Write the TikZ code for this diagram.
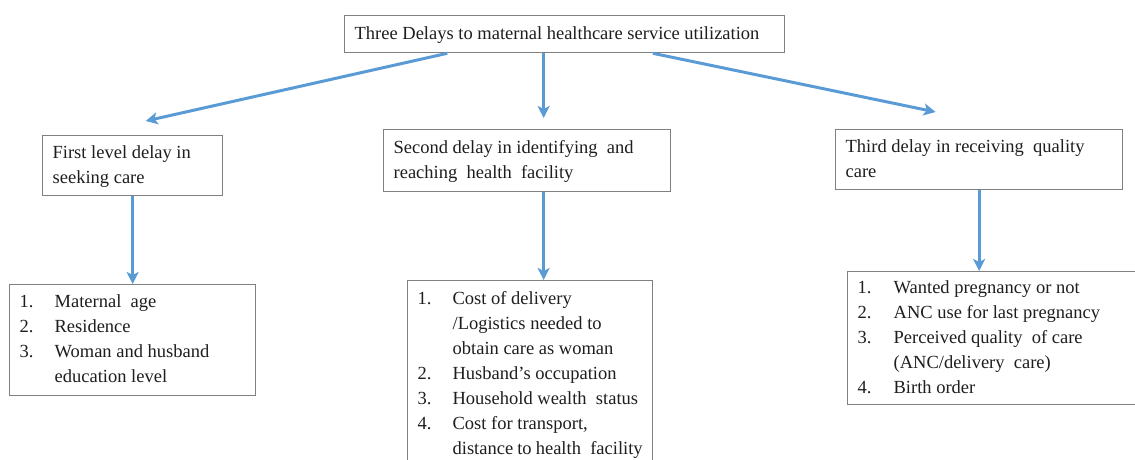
\documentclass[tikz,border=0pt]{standalone}
\usepackage{fontspec}
\setmainfont{Liberation Serif}
\usetikzlibrary{arrows.meta,calc,positioning}
\definecolor{arrowblue}{RGB}{91,155,213}
\definecolor{boxgray}{RGB}{128,128,128}
\definecolor{textgray}{RGB}{30,30,30}
\newcommand{\boxfont}{\fontsize{18.5}{25}\selectfont}

\begin{document}
\begin{tikzpicture}[x=1pt, y=-1pt,
    box/.style={draw=boxgray, line width=1.3pt, anchor=north west,
      inner xsep=10pt, inner ysep=0pt, font=\boxfont, text=textgray},
    flow/.style={draw=arrowblue, line width=3pt,
      -{Stealth[length=12pt,width=12pt,inset=3pt]}}]
  \useasboundingbox (0,0) rectangle (1135,459);
  \clip (0,0) rectangle (1135,459);

  % top box
  \node[box, minimum height=37pt] (delays) at (344,15)
    {\begin{tabular}{@{}p{420pt}@{}}Three Delays to maternal healthcare service utilization\end{tabular}};

  % the three delays
  \node[box, minimum height=60pt] (first) at (42,135)
    {\begin{tabular}{@{}p{160pt}@{}}First level delay in\\ seeking care\end{tabular}};
  \node[box, minimum height=62pt] (second) at (383,129)
    {\begin{tabular}{@{}p{267pt}@{}}Second delay in identifying\enspace and\\ reaching\enspace health\enspace facility\end{tabular}};
  \node[box, minimum height=60pt] (third) at (835,129)
    {\begin{tabular}{@{}p{267pt}@{}}Third delay in receiving\enspace quality\\ care\end{tabular}};

  % factor lists
  \node[box, inner ysep=5.5pt] (firstlist) at (9,284)
    {\begin{tabular}{@{}p{35pt}@{}p{191pt}@{}}
      1. & Maternal\enspace age\\
      2. & Residence\\
      3. & Woman and husband\\
         & education level
    \end{tabular}};
  \node[box, inner ysep=6pt] (secondlist) at (407,280)
    {\begin{tabular}{@{}p{35pt}@{}p{190pt}@{}}
      1. & Cost of delivery\\
         & /Logistics needed to\\
         & obtain care as woman\\
      2. & Husband's occupation\\
      3. & Household wealth\enspace status\\
      4. & Cost for transport,\\
         & distance to health\enspace facility
    \end{tabular}};
  \node[box, inner ysep=4pt] (thirdlist) at (847,271)
    {\begin{tabular}{@{}p{36pt}@{}p{244pt}@{}}
      1. & Wanted pregnancy or not\\
      2. & ANC use for last pregnancy\\
      3. & Perceived quality\enspace of care\\
         & (ANC/delivery\enspace care)\\
      4. & Birth order
    \end{tabular}};

  % arrows
  \draw[flow] ($(delays.south west)!0.234!(delays.south east)$) -- ([xshift=13pt,yshift=14pt]first.north);
  \draw[flow] ([xshift=-21pt]delays.south) -- ([xshift=16.5pt,yshift=11pt]second.north);
  \draw[flow] ($(delays.south west)!0.7!(delays.south east)$) -- ([xshift=-43.5pt,yshift=17pt]third.north);

  \draw[flow] (first.south) -- (first.south |- firstlist.north);
  \draw[flow] ([xshift=16.5pt]second.south) -- ([xshift=16.5pt]second.south |- secondlist.north);
  \draw[flow] (third.south) -- (third.south |- thirdlist.north);
\end{tikzpicture}
\end{document}
